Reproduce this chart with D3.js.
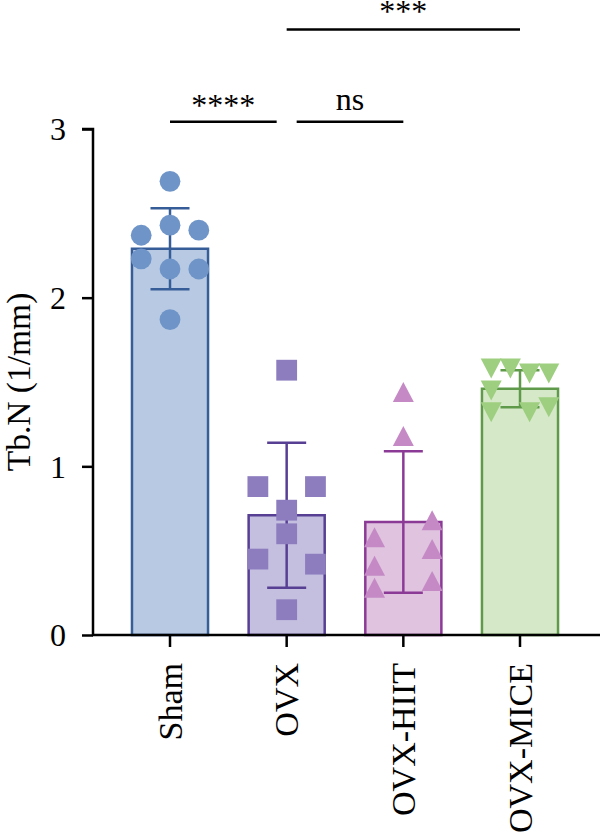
<!DOCTYPE html>
<html>
<head>
<meta charset="utf-8">
<script src="https://cdn.jsdelivr.net/npm/d3@7"></script>
<style>
  html, body { margin: 0; padding: 0; background: #ffffff; }
  svg { display: block; }
  text { font-family: "Liberation Serif", "Times New Roman", serif; fill: #000; }
</style>
</head>
<body>
<div id="chart"></div>
<script>
// ---------------- data ----------------
const categories = ["Sham", "OVX", "OVX-HIIT", "OVX-MICE"];
const means = [2.29, 0.71, 0.67, 1.46];
const sds = [0.24, 0.43, 0.42, 0.11];

const shamValues = [2.69, 2.37, 2.43, 2.40, 2.23, 2.17, 2.17, 1.87];
const ovxValues = [1.57, 0.88, 0.88, 0.74, 0.60, 0.45, 0.42, 0.15];
const hiitValues = [1.44, 1.18, 0.58, 0.41, 0.28, 0.68, 0.51, 0.32];
const miceValues = [1.58, 1.58, 1.55, 1.55, 1.45, 1.32, 1.32, 1.35];

// horizontal scatter slot of each point (column index)
const shamSlots = [0, -3, 0, 3, -3, 0, 3, 0];
const ovxSlots = [0, -3, 3, 0, 0, -3, 3, 0];
const hiitSlots = [0, 0, -3, -3, -3, 3, 3, 3];
const miceSlots = [-3, -1, 1, 3, -3, -3, 1, 3];

const yTicks = [0, 1, 2, 3];
const yTitle = "Tb.N (1/mm)";

const sigPairs = [[0, 1], [1, 2], [1, 3]];
const sigLabels = ["****", "ns", "***"];
const sigLevels = [3.043, 3.043, 3.59];

// ---------------- styles ----------------
const fills = ["#b8cae3", "#c4bfdf", "#dfc3df", "#d5e8c8"];
const strokes = ["#375d98", "#573f93", "#8b3a96", "#5f9a4a"];
const pointColors = ["#6e94c8", "#8d7dbf", "#c58ac5", "#9ecf80"];
const shapes = ["circle", "square", "triangleUp", "triangleDown"];

const W = 600, H = 832;
const svg = d3.select("#chart").append("svg").attr("width", W).attr("height", H);

const y = d3.scaleLinear().domain([0, 3]).range([635, 129]);
const x = d3.scaleBand().domain(categories)
  .range([111.67, 578.33]).paddingInner(0.348).paddingOuter(0.174);
const cx = c => x(c) + x.bandwidth() / 2;
const slotUnit = 9.6;

const groups = [
  { values: shamValues, slots: shamSlots },
  { values: ovxValues, slots: ovxSlots },
  { values: hiitValues, slots: hiitSlots },
  { values: miceValues, slots: miceSlots }
];

// bars
svg.append("g").selectAll("rect").data(categories).join("rect")
  .attr("x", d => x(d))
  .attr("y", (d, i) => y(means[i]))
  .attr("width", x.bandwidth())
  .attr("height", (d, i) => y(0) - y(means[i]))
  .attr("fill", (d, i) => fills[i])
  .attr("stroke", (d, i) => strokes[i])
  .attr("stroke-width", 2.5);

// error bars
const capHalf = 19.5;
const eb = svg.append("g");
categories.forEach((c, i) => {
  const xc = cx(c);
  const g = eb.append("g").attr("stroke", strokes[i]).attr("stroke-width", 2.5).attr("fill", "none");
  g.append("line").attr("x1", xc).attr("x2", xc).attr("y1", y(means[i] + sds[i])).attr("y2", y(means[i] - sds[i]));
  g.append("line").attr("x1", xc - capHalf).attr("x2", xc + capHalf).attr("y1", y(means[i] + sds[i])).attr("y2", y(means[i] + sds[i]));
  g.append("line").attr("x1", xc - capHalf).attr("x2", xc + capHalf).attr("y1", y(means[i] - sds[i])).attr("y2", y(means[i] - sds[i]));
});

// points
function symbolPath(shape) {
  if (shape === "circle") { const r = 10.4; return `M${-r},0A${r},${r} 0 1,0 ${r},0A${r},${r} 0 1,0 ${-r},0Z`; }
  if (shape === "square") { const s = 10.4; return `M${-s},${-s}H${s}V${s}H${-s}Z`; }
  if (shape === "triangleUp") { const w = 10.5, h = 10; return `M0,${-h}L${w},${h}L${-w},${h}Z`; }
  const w = 10.5, h = 10; return `M0,${h}L${w},${-h}L${-w},${-h}Z`;
}
const pts = svg.append("g");
groups.forEach((g, i) => {
  pts.append("g").selectAll("path").data(g.values).join("path")
    .attr("d", symbolPath(shapes[i]))
    .attr("fill", pointColors[i])
    .attr("transform", (v, j) => `translate(${cx(categories[i]) + g.slots[j] * slotUnit},${y(v)})`);
});

// y axis
const yAxis = svg.append("g").attr("transform", "translate(93,0)")
  .call(d3.axisLeft(y).tickValues(yTicks).tickSize(11).tickPadding(16).tickFormat(d3.format("d")));
yAxis.select(".domain").attr("d", `M-11,${y(3)}H0V${y(0)}`).attr("stroke", "#000").attr("stroke-width", 2.5);
yAxis.selectAll(".tick line").attr("stroke", "#000").attr("stroke-width", 2.5);
yAxis.selectAll(".tick text").attr("font-size", 32).attr("font-family", "Liberation Serif").attr("fill", "#000").attr("dy", "0.34em");

// x axis
const xAxis = svg.append("g").attr("transform", `translate(0,${y(0)})`)
  .call(d3.axisBottom(x).tickSize(12).tickPadding(0));
xAxis.select(".domain").attr("d", `M92,0H600`).attr("stroke", "#000").attr("stroke-width", 2.5);
xAxis.selectAll(".tick line").attr("stroke", "#000").attr("stroke-width", 2.5);
xAxis.selectAll(".tick text")
  .attr("font-size", 34).attr("font-family", "Liberation Serif").attr("fill", "#000")
  .attr("text-anchor", "end")
  .attr("transform", "rotate(-90)")
  .attr("x", -28).attr("y", 0).attr("dy", "0.34em");

// y title
svg.append("text")
  .attr("transform", `translate(30,${(y(0) + y(3)) / 2}) rotate(-90)`)
  .attr("text-anchor", "middle")
  .attr("font-size", 33.5)
  .text(yTitle);

// significance
const sigGaps = [[0, -10], [10, 0], [0, 0]];
const sigTextOffsets = [-6, -12, -8];
const sg = svg.append("g");
sigPairs.forEach((p, k) => {
  const x1 = cx(categories[p[0]]) + sigGaps[k][0];
  const x2 = cx(categories[p[1]]) + sigGaps[k][1];
  const yy = y(sigLevels[k]);
  sg.append("line").attr("x1", x1).attr("x2", x2).attr("y1", yy).attr("y2", yy)
    .attr("stroke", "#000").attr("stroke-width", 2.5);
  sg.append("text").attr("x", (x1 + x2) / 2).attr("y", yy + sigTextOffsets[k])
    .attr("text-anchor", "middle").attr("font-size", 32).text(sigLabels[k]);
});
</script>
</body>
</html>
